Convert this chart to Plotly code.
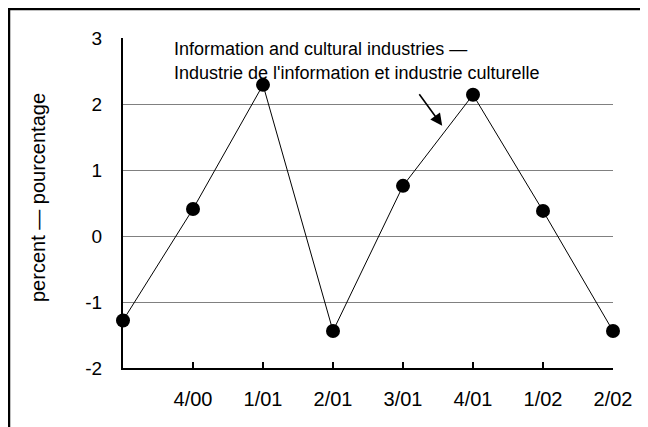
import plotly.graph_objects as go

categories = ["3/00", "4/00", "1/01", "2/01", "3/01", "4/01", "1/02", "2/02"]
x_tick_labels = ["", "4/00", "1/01", "2/01", "3/01", "4/01", "1/02", "2/02"]
values = [-1.28, 0.41, 2.29, -1.44, 0.76, 2.14, 0.38, -1.44]
y_tick_vals = [-2, -1, 0, 1, 2, 3]
y_tick_labels = ["-2", "-1", "0", "1", "2", "3"]

xi = list(range(len(categories)))

fig = go.Figure()
fig.add_trace(go.Scatter(
    x=xi, y=values, mode="lines+markers",
    line=dict(color="black", width=1),
    marker=dict(color="black", size=14),
    cliponaxis=False, showlegend=False,
))

# page offset of 8px (browser body margin) compensated
OFF = 8
W, H = 648 - OFF, 427 - OFF
L, R, T, B = 123 - OFF, 613 - OFF, 38 - OFF, 368 - OFF
pw, ph = R - L, B - T

def px(x):
    return (x - OFF - L) / pw

def py(y):
    return (B - (y - OFF)) / ph

fig.update_layout(
    width=W, height=H,
    margin=dict(l=L, r=W - R, t=T, b=H - B, pad=0),
    paper_bgcolor="white", plot_bgcolor="white",
    font=dict(family="Liberation Sans, Arial", color="black"),
    xaxis=dict(
        range=[0, len(categories) - 1],
        tickvals=xi, ticktext=x_tick_labels,
        showline=True, linecolor="black", linewidth=2,
        ticks="inside", ticklen=6, tickwidth=1.5, tickcolor="black",
        showgrid=False, zeroline=False, ticklabelstandoff=12,
        tickfont=dict(size=20),
    ),
    yaxis=dict(
        range=[-2, 3], tickvals=y_tick_vals, ticktext=y_tick_labels,
        showline=True, linecolor="black", linewidth=2,
        showgrid=True, gridcolor="#808080", gridwidth=1,
        zeroline=False, ticks="", ticklabelstandoff=15,
        tickfont=dict(size=19),
    ),
    shapes=[
        dict(type="line", xref="paper", yref="paper",
             x0=px(OFF + 1), x1=px(OFF + 1), y0=py(440), y1=py(OFF),
             line=dict(color="black", width=2.5)),
        dict(type="line", xref="paper", yref="paper",
             x0=px(OFF), x1=px(660), y0=py(OFF + 1), y1=py(OFF + 1),
             line=dict(color="black", width=2.5)),
    ],
    annotations=[
        dict(text="percent — pourcentage", xref="paper", yref="paper",
             x=px(38), y=py(198), xanchor="center", yanchor="middle",
             textangle=-90, showarrow=False, font=dict(size=20)),
        dict(text="Information and cultural industries —", xref="paper", yref="paper",
             x=px(172), y=py(49), xanchor="left", yanchor="middle", showarrow=False,
             font=dict(size=18)),
        dict(text="Industrie de l'information et industrie culturelle", xref="paper", yref="paper",
             x=px(172), y=py(73), xanchor="left", yanchor="middle", showarrow=False,
             font=dict(size=18)),
        dict(text="", x=4.56, y=1.67, xref="x", yref="y", showarrow=True,
             ax=-24, ay=-33, arrowhead=2, arrowsize=1.5, arrowwidth=1.6, arrowcolor="black"),
    ],
)

fig.write_html("out.html")
